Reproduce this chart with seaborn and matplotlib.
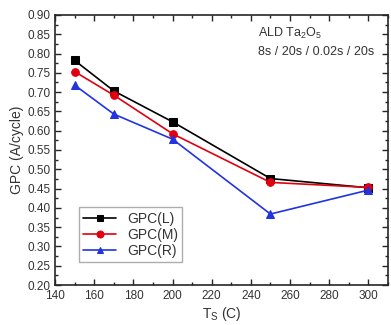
import numpy as np
import pandas as pd
import matplotlib
matplotlib.use("Agg")
import matplotlib.pyplot as plt
from matplotlib.ticker import MultipleLocator
import seaborn as sns

ts = [150, 170, 200, 250, 300]
gpc_l = [0.782, 0.703, 0.623, 0.476, 0.452]
gpc_m = [0.753, 0.692, 0.592, 0.466, 0.453]
gpc_r = [0.718, 0.643, 0.578, 0.384, 0.446]

df = pd.DataFrame({"Ts": ts * 3,
                   "GPC": gpc_l + gpc_m + gpc_r,
                   "series": ["GPC(L)"] * 5 + ["GPC(M)"] * 5 + ["GPC(R)"] * 5})

sns.set_style("ticks")
plt.rcParams['font.family'] = ['Liberation Sans', 'DejaVu Sans']

fig = plt.figure(figsize=(3.91, 3.25), dpi=100)
ax = fig.add_axes([0.141, 0.123, 0.851, 0.831])

sns.lineplot(data=df, x="Ts", y="GPC", hue="series", style="series",
             palette=["black", "#e0000f", "#2233e0"],
             markers=["s", "o", "^"], dashes=False, markersize=5.5,
             linewidth=1.2, ax=ax)

# solid markers, no white rim
for ln in ax.lines:
    ln.set_markeredgecolor(ln.get_color())
    ln.set_markerfacecolor(ln.get_color())

ax.set_xlim(140, 310)
ax.set_ylim(0.2, 0.9)
ax.xaxis.set_major_locator(MultipleLocator(20))
ax.xaxis.set_minor_locator(MultipleLocator(10))
ax.yaxis.set_major_locator(MultipleLocator(0.05))
ax.yaxis.set_minor_locator(MultipleLocator(0.025))
ax.tick_params(which="both", direction="in", top=True, right=True,
               labelsize=8.5, width=1, labelcolor="#333333")
ax.tick_params(which="major", length=4)
ax.tick_params(which="minor", length=2)
for s in ax.spines.values():
    s.set_linewidth(1.2)

ax.set_xlabel("T$_\\mathregular{S}$ (C)", fontsize=10, labelpad=2, color="#333333")
ax.set_ylabel("GPC (A/cycle)", fontsize=10, labelpad=2, color="#333333")

ax.text(0.61, 0.92, "ALD Ta$_\\mathregular{2}$O$_\\mathregular{5}$", transform=ax.transAxes,
        fontsize=9, color="#333333")
ax.text(0.61, 0.85, "8s / 20s / 0.02s / 20s", transform=ax.transAxes,
        fontsize=9, color="#333333")

leg = ax.legend(loc="lower left", bbox_to_anchor=(0.05, 0.06), fontsize=10,
                frameon=True, fancybox=False, edgecolor="#999999",
                handlelength=2.4, borderpad=0.3, labelspacing=0.15, title=None)
for h in leg.legend_handles:
    h.set_markeredgecolor(h.get_color())
    h.set_markerfacecolor(h.get_color())
    h.set_markersize(5)
for t in leg.get_texts():
    t.set_color("#333333")

fig.savefig("out.png", dpi=100)
